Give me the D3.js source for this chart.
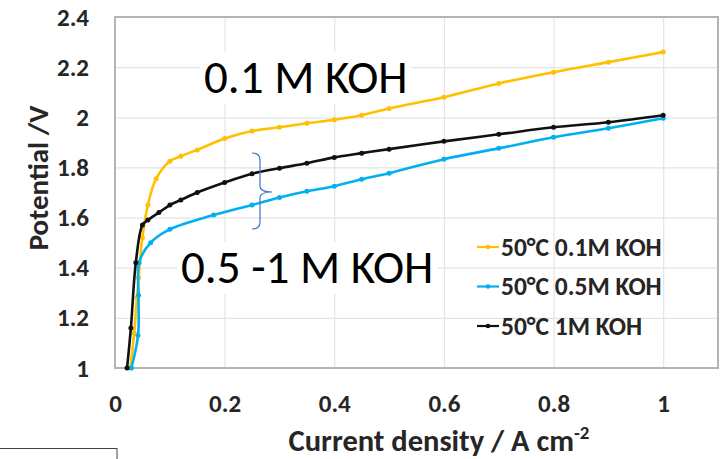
<!DOCTYPE html>
<html>
<head>
<meta charset="utf-8">
<script src="https://cdn.jsdelivr.net/npm/d3@7"></script>
<style>
  body { margin: 0; background: #fff; }
  text { font-family: Calibri, Carlito, Lato, sans-serif; }
</style>
</head>
<body>
<div id="chart"></div>
<script>
// chart data
var xTicks = [0, 0.2, 0.4, 0.6, 0.8, 1];
var yTicks = [1, 1.2, 1.4, 1.6, 1.8, 2, 2.2, 2.4];

var seriesNames = ["50°C 0.1M KOH", "50°C 0.5M KOH", "50°C 1M KOH"];

var current01 = [0.028, 0.035, 0.04, 0.043, 0.05, 0.06, 0.075, 0.1, 0.12, 0.15, 0.2, 0.25, 0.3, 0.35, 0.4, 0.45, 0.5, 0.6, 0.7, 0.8, 0.9, 1.0];
var potential01 = [1.0, 1.14, 1.28, 1.36, 1.52, 1.65, 1.755, 1.825, 1.845, 1.87, 1.915, 1.945, 1.96, 1.976, 1.99, 2.008, 2.035, 2.08, 2.135, 2.18, 2.22, 2.26];

var current05 = [0.03, 0.042, 0.043, 0.044, 0.065, 0.1, 0.18, 0.25, 0.3, 0.35, 0.4, 0.45, 0.5, 0.6, 0.7, 0.8, 0.9, 1.0];
var potential05 = [1.0, 1.13, 1.29, 1.42, 1.5, 1.553, 1.61, 1.65, 1.68, 1.705, 1.725, 1.753, 1.777, 1.833, 1.876, 1.92, 1.956, 1.996];

var current1 = [0.022, 0.029, 0.038, 0.05, 0.06, 0.08, 0.1, 0.12, 0.15, 0.2, 0.25, 0.3, 0.35, 0.4, 0.45, 0.5, 0.6, 0.7, 0.8, 0.9, 1.0];
var potential1 = [1.0, 1.16, 1.42, 1.57, 1.59, 1.62, 1.65, 1.67, 1.70, 1.74, 1.775, 1.797, 1.817, 1.84, 1.857, 1.873, 1.904, 1.932, 1.96, 1.98, 2.008];

var colors = ["#FFC000", "#00B0F0", "#111111"];

var svgWidth = 725;
var svgHeight = 459;

var margin = { top: 17, right: 7, bottom: 91, left: 115 };
var width = svgWidth - margin.left - margin.right;
var height = svgHeight - margin.top - margin.bottom;

var svg = d3.select("#chart")
    .append("svg")
    .attr("width", svgWidth)
    .attr("height", svgHeight);

var chartGroup = svg.append("g")
    .attr("transform", `translate(${margin.left}, ${margin.top})`);

var xScale = d3.scaleLinear().domain([0, 1.1]).range([0, width]);
var yScale = d3.scaleLinear().domain([1, 2.4]).range([height, 0]);

// gridlines
chartGroup.append("g")
    .attr("transform", `translate(0, ${height})`)
    .call(d3.axisBottom(xScale).tickValues(xTicks.slice(1)).tickSize(-height).tickFormat(""))
    .call(g => g.select(".domain").remove())
    .selectAll("line").attr("stroke", "#e4e4e4").attr("stroke-width", 1.2);

chartGroup.append("g")
    .call(d3.axisLeft(yScale).tickValues(yTicks.slice(1, -1)).tickSize(-width).tickFormat(""))
    .call(g => g.select(".domain").remove())
    .selectAll("line").attr("stroke", "#e4e4e4").attr("stroke-width", 1.2);

// plot border
chartGroup.append("rect")
    .attr("x", 0).attr("y", 0)
    .attr("width", width).attr("height", height)
    .attr("fill", "none")
    .attr("stroke", "#b4b4b4")
    .attr("stroke-width", 2);

// tick labels
var bottomAxis = d3.axisBottom(xScale).tickValues(xTicks).tickSize(0).tickPadding(26).tickFormat(d => d);
var leftAxis = d3.axisLeft(yScale).tickValues(yTicks).tickSize(0).tickPadding(26).tickFormat(d => d);

var xAxis = chartGroup.append("g")
    .attr("transform", `translate(0, ${height})`)
    .call(bottomAxis);
var yAxis = chartGroup.append("g").call(leftAxis);

[xAxis, yAxis].forEach(function (ax) {
    ax.select(".domain").remove();
    ax.selectAll("text")
        .attr("font-size", 25)
        .attr("font-weight", "bold")
        .attr("fill", "#262626")
        .style("font-family", "Calibri, Carlito, Lato, sans-serif");
});

// annotation text boxes (drawn under the curves)
var notes = [
    { text: "0.1 M KOH", x: 204, y: 93 },
    { text: "0.5 -1 M KOH", x: 181, y: 283 }
];
var notesLayer = svg.append("g");
notes.forEach(function (n) {
    var g = notesLayer.append("g");
    var box = g.append("rect").attr("fill", "#fff");
    var t = g.append("text")
        .attr("x", n.x)
        .attr("y", n.y)
        .attr("font-size", 47)
        .attr("fill", "#000")
        .text(n.text);
    var bb = t.node().getBBox();
    box.attr("x", bb.x - 4).attr("y", bb.y + 4)
        .attr("width", bb.width + 8).attr("height", bb.height - 6);
});

// series lines with markers
var seriesGroup = svg.append("g")
    .attr("transform", `translate(${margin.left}, ${margin.top})`);

var allSeries = [
    { xs: current01, ys: potential01 },
    { xs: current05, ys: potential05 },
    { xs: current1, ys: potential1 }
];

var line = d3.line()
    .x(d => xScale(d[0]))
    .y(d => yScale(d[1]))
    .curve(d3.curveCatmullRom.alpha(0.5));

allSeries.forEach(function (s, i) {
    var pts = s.xs.map((x, j) => [x, s.ys[j]]);
    seriesGroup.append("path")
        .datum(pts)
        .attr("fill", "none")
        .attr("stroke", colors[i])
        .attr("stroke-width", 2.6)
        .attr("d", line);
    seriesGroup.selectAll(null)
        .data(pts)
        .enter()
        .append("circle")
        .attr("cx", d => xScale(d[0]))
        .attr("cy", d => yScale(d[1]))
        .attr("r", 2.5)
        .attr("fill", colors[i]);
});

// bracket
svg.append("path")
    .attr("d", "M252,153 Q260,153 260,160 L260,186 Q260,192 272,192 Q260,192 260,198 L260,222 Q260,229 252,229")
    .attr("fill", "none")
    .attr("stroke", "#4472C4")
    .attr("stroke-width", 1.2);

// legend
var legend = svg.append("g");
seriesNames.forEach(function (name, i) {
    var ly = 247 + i * 39.5;
    legend.append("line")
        .attr("x1", 477).attr("x2", 499)
        .attr("y1", ly).attr("y2", ly)
        .attr("stroke", colors[i])
        .attr("stroke-width", 2.2);
    legend.append("circle")
        .attr("cx", 488).attr("cy", ly).attr("r", 2.3)
        .attr("fill", colors[i]);
    legend.append("text")
        .attr("x", 501)
        .attr("y", ly)
        .attr("dominant-baseline", "central")
        .attr("font-size", 25.5)
        .attr("font-weight", "bold")
        .attr("fill", "#262626")
        .text(name);
});

// axis titles
var xTitle = svg.append("text")
    .attr("x", 439)
    .attr("y", 451)
    .attr("text-anchor", "middle")
    .attr("font-size", 30.5)
    .attr("font-weight", "bold")
    .attr("fill", "#262626");
xTitle.append("tspan").text("Current density / A cm");
xTitle.append("tspan").attr("font-size", 19).attr("dy", -12).text("-2");

svg.append("text")
    .attr("transform", "translate(48, 178) rotate(-90)")
    .attr("text-anchor", "middle")
    .attr("font-size", 29)
    .attr("font-weight", "bold")
    .attr("fill", "#262626")
    .text("Potential /V");

// partial box at bottom left
svg.append("rect")
    .attr("x", -1).attr("y", 448.5)
    .attr("width", 118).attr("height", 20)
    .attr("fill", "none")
    .attr("stroke", "#444")
    .attr("stroke-width", 1);
</script>
</body>
</html>
